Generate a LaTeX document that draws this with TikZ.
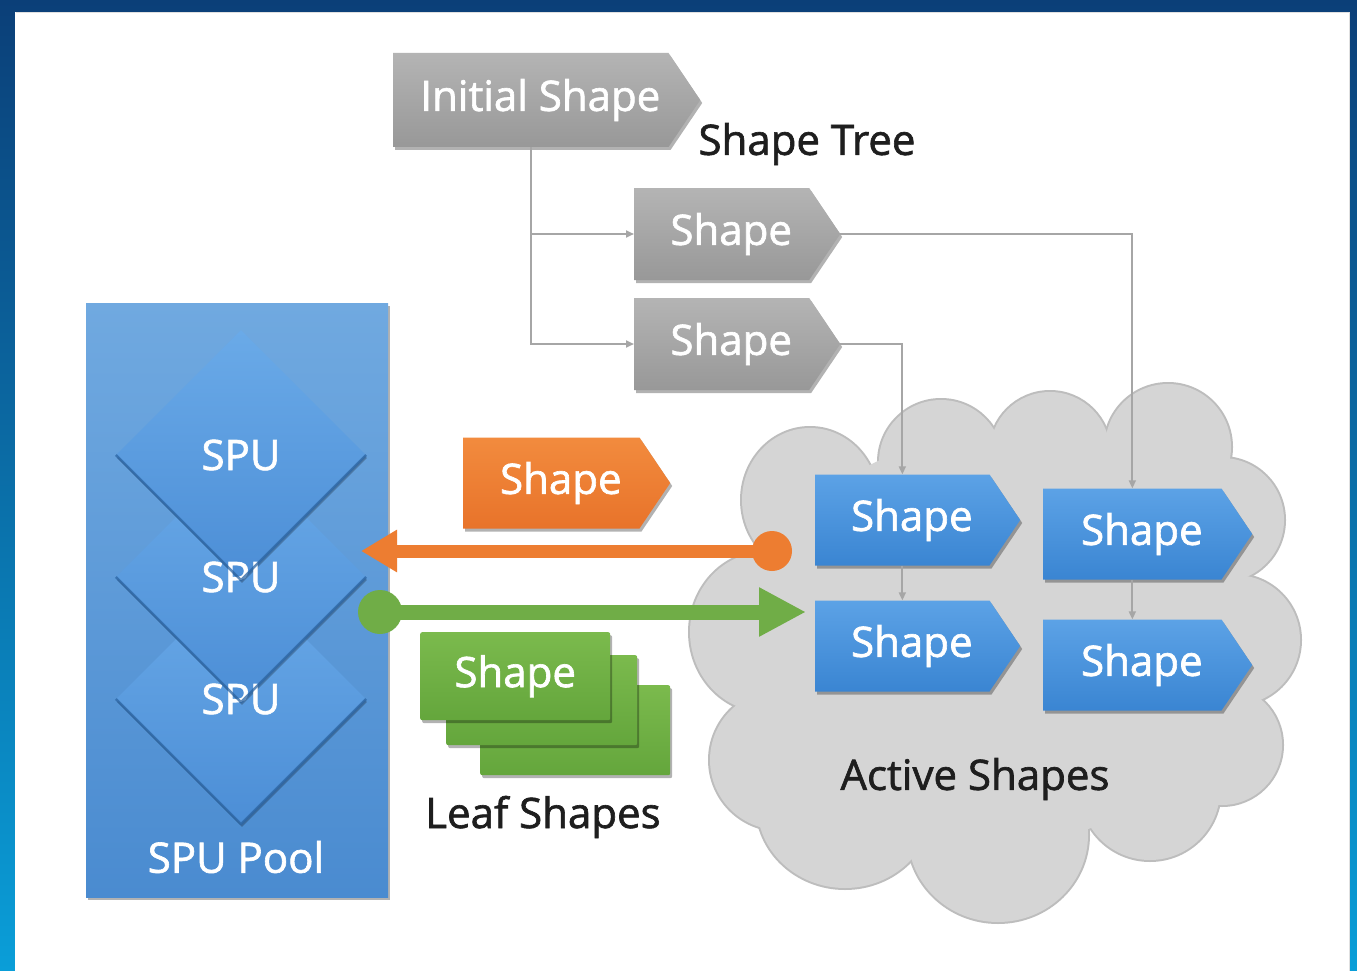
\documentclass[tikz,border=0pt]{standalone}
\usepackage{fontspec}
\setmainfont[FakeBold=1.5]{Open Sans}
\usetikzlibrary{shapes.symbols,shapes.geometric,shadows,arrows.meta,calc}

\definecolor{frameTop}{HTML}{0B3F78}
\definecolor{frameBot}{HTML}{0A9ED8}
\definecolor{greyTop}{HTML}{B4B4B4}
\definecolor{greyBot}{HTML}{989898}
\definecolor{blueTop}{HTML}{5CA2E6}
\definecolor{blueBot}{HTML}{3A85D2}
\definecolor{orangeTop}{HTML}{F28B3E}
\definecolor{orangeBot}{HTML}{E8732A}
\definecolor{greenTop}{HTML}{7BBA4D}
\definecolor{greenBot}{HTML}{64A63C}
\definecolor{greenFill}{HTML}{70AD47}
\definecolor{orangeFill}{HTML}{ED7D31}
\definecolor{poolTop}{HTML}{70A9E0}
\definecolor{poolBot}{HTML}{4A8BD0}
\definecolor{diaTop}{HTML}{6AAAE8}
\definecolor{diaBot}{HTML}{4C8ED6}
\definecolor{diaEdge}{HTML}{2C65A3}
\definecolor{cloudFill}{HTML}{D5D5D5}
\definecolor{cloudEdge}{HTML}{BDBDBD}
\definecolor{treeGrey}{HTML}{A6A6A6}
\definecolor{labelInk}{HTML}{1E1E1E}

\newcommand\tagfont{\fontsize{42}{50}\selectfont}

\tikzset{
  softshadow/.style={drop shadow={shadow xshift=2pt,shadow yshift=-3pt,opacity=.30,fill=black}},
  textoffset/.style={execute at begin node={\hspace*{#1}}},
  tagbase/.style={signal, signal to=east, signal from=nowhere,
    signal pointer angle=112, inner sep=0pt, text=white, font=\tagfont,
    anchor=west, softshadow, textoffset=19pt},
  greytag/.style={tagbase, top color=greyTop, bottom color=greyBot},
  bluetag/.style={tagbase, top color=blueTop, bottom color=blueBot},
  orangetag/.style={tagbase, top color=orangeTop, bottom color=orangeBot},
  leafcard/.style={rectangle, rounded corners=2pt, anchor=north west,
    top color=greenTop, bottom color=greenBot, softshadow,
    text=white, font=\tagfont, inner sep=0pt},
  spudia/.style={diamond, minimum width=250pt, minimum height=250pt,
    inner sep=0pt, top color=diaTop, bottom color=diaBot,
    drop shadow={shadow xshift=1pt,shadow yshift=-3pt,opacity=.25,fill=black}},
  spuedge/.style={draw=diaEdge, line width=2.5pt, opacity=.75, line join=round},
  spulabel/.style={text=white, font=\tagfont},
  darklabel/.style={text=labelInk, font=\tagfont},
  treelink/.style={draw=treeGrey, line width=2pt,
    -{Triangle[length=8pt,width=7pt]}},
  orangeflow/.style={draw=orangeFill, line width=13pt,
    -{Triangle[length=36pt,width=40pt]}},
  greenflow/.style={draw=greenFill, line width=15pt,
    -{Triangle[length=47pt,width=46pt]}},
}

\begin{document}
\begin{tikzpicture}[x=1pt,y=-1pt]
\useasboundingbox (0,0) rectangle (1357,971);

% slide frame
\shade[top color=frameTop, bottom color=frameBot] (0,0) rectangle (1357,971);
\fill[white] (15,12) rectangle (1350,971);
\draw[black!12, line width=1pt] (15.5,12.5) -- (1349.5,12.5) -- (1349.5,971);

% ---------- shape tree ----------
\node[greytag, minimum width=307pt, minimum height=94pt] (init) at (393,100) {Initial Shape};
\node[darklabel] (treelbl) at (807,144) {Shape Tree};
\node[greytag, minimum width=206pt, minimum height=92pt] (g1) at (634,234) {Shape};
\node[greytag, minimum width=206pt, minimum height=92pt] (g2) at (634,344) {Shape};

\draw[treelink] (init.south) |- (g1.west);
\draw[treelink] (init.south) |- (g2.west);

% ---------- active shapes cloud ----------
\begin{scope}
  \foreach \cx/\cy/\rx/\ry in {
      810/500/68/72, 941/462/62/62, 1050/452/60/60, 1168/447/63/63,
      1222/520/62/62, 1235/640/65/65, 1222/745/60/60, 1150/790/70/70,
      998/835/90/87, 845/805/88/83, 780/760/70/70, 765/632/75/80}
    \draw[cloudEdge, line width=4pt] (\cx,\cy) ellipse [x radius=\rx, y radius=\ry];
  \foreach \cx/\cy/\rx/\ry in {
      810/500/68/72, 941/462/62/62, 1050/452/60/60, 1168/447/63/63,
      1222/520/62/62, 1235/640/65/65, 1222/745/60/60, 1150/790/70/70,
      998/835/90/87, 845/805/88/83, 780/760/70/70, 765/632/75/80}
    \fill[cloudFill] (\cx,\cy) ellipse [x radius=\rx, y radius=\ry];
  \fill[cloudFill] (995,640) ellipse [x radius=240, y radius=205];
\end{scope}
\node[darklabel] (activelbl) at (975,779) {Active Shapes};

\node[bluetag, minimum width=205pt, minimum height=91pt] (b1) at (815,520) {Shape};
\node[bluetag, minimum width=209pt, minimum height=91pt] (b2) at (1043,534) {Shape};
\node[bluetag, minimum width=205pt, minimum height=91pt] (b3) at (815,646) {Shape};
\node[bluetag, minimum width=209pt, minimum height=91pt] (b4) at (1043,665) {Shape};

\draw[treelink] (g1.east) -| (b2.north);
\draw[treelink] (g2.east) -| (b1.north);
\draw[treelink] (b1.south) -- (b3.north);
\draw[treelink] (b2.south) -- (b4.north);

% ---------- SPU pool ----------
\node[rectangle, anchor=north west, minimum width=302pt, minimum height=594pt,
      inner sep=0pt, top color=poolTop, bottom color=poolBot, softshadow]
      (pool) at (86,303) {};
\node[spudia] (d3) at (241,699) {};
\node[spudia] (d2) at (241,577) {};
\node[spudia] (d1) at (241,455) {};
\node[spulabel] (s1) at (d1.center) {SPU};
\node[spulabel] (s2) at (d2.center) {SPU};
\node[spulabel] (s3) at (d3.center) {SPU};
\foreach \d in {d1,d2,d3}
  \draw[spuedge] (\d.west) -- (\d.south) -- (\d.east);
\node[spulabel] (poollbl) at (236,857) {SPU Pool};

% ---------- scheduled / leaf shapes ----------
\node[orangetag, minimum width=207pt, minimum height=91pt] (orange) at (463,483) {Shape};

\node[leafcard, minimum width=190pt, minimum height=90pt] (leaf3) at (480,685) {};
\node[leafcard, minimum width=191pt, minimum height=90pt] (leaf2) at (446,655) {};
\node[leafcard, minimum width=190pt, minimum height=88pt] (leaf1) at (420,632) {Shape};
\node[darklabel] (leaflbl) at (543,817) {Leaf Shapes};

% ---------- flows between pool and active shapes ----------
\coordinate (oDot) at (772,551);
\coordinate (oTip) at (361,551);
\coordinate (gDot) at (380,612);
\coordinate (gTip) at (806,612);
\draw[orangeflow] (oDot) -- (oTip);
\fill[orangeFill] (oDot) circle (20pt);
\draw[greenflow] (gDot) -- (gTip);
\fill[greenFill] (gDot) circle (22pt);

\end{tikzpicture}
\end{document}
